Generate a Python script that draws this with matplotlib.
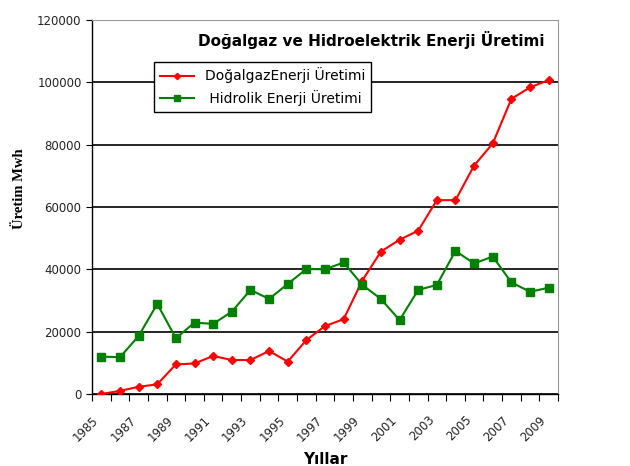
import matplotlib
matplotlib.use("Agg")
import matplotlib.pyplot as plt
import numpy as np

years = list(range(1985, 2010))  # 25 categories
dogalgaz = [0, 1000, 2300, 3100, 9500, 9800, 12200, 10900, 10900, 13800,
            10400, 17300, 21800, 24000, 36400, 45700, 49500, 52400, 62200,
            62200, 73300, 80400, 94700, 98400, 100700]
hidrolik = [12000, 11800, 18600, 28900, 17900, 22900, 22500, 26400, 33400,
            30500, 35300, 40100, 40000, 42200, 35000, 30500, 23700, 33400,
            35000, 45900, 41900, 44100, 35800, 32800, 34100]
tick_years = list(range(1985, 2011, 2))
title = "Doğalgaz ve Hidroelektrik Enerji Üretimi"
series_labels = ["DoğalgazEnerji Üretimi", " Hidrolik Enerji Üretimi"]

fig = plt.figure(figsize=(6.3, 4.66), dpi=100)
ax = fig.add_axes([92/630, 72/466, 466/630, 374/466])

x = np.arange(len(years))
ax.plot(x, dogalgaz, color="#ff0000", lw=1.5, marker="D", ms=4,
        mec="#ff0000", mfc="#ff0000", label=series_labels[0], zorder=3)
ax.plot(x, hidrolik, color="#008000", lw=1.5, marker="s", ms=6,
        mec="#008000", mfc="#008000", label=series_labels[1], zorder=3)

ax.set_xlim(-0.5, len(years) - 0.5)
ax.set_ylim(0, 120000)
ax.set_yticks(range(0, 120001, 20000))
ax.yaxis.grid(True, color="black", lw=1.2)
ax.set_axisbelow(True)

# category boundaries as ticks
bounds = np.arange(len(years) + 1) - 0.5
ax.set_xticks(bounds)
labels = []
for i in range(len(bounds)):
    yr = years[0] + i
    labels.append(str(yr) if (yr in tick_years and i < len(years)) else "")
ax.set_xticklabels(labels, rotation=45, ha="right", rotation_mode="anchor",
                   fontsize=8.5, color="#222222")
ax.tick_params(axis="y", labelsize=8.5, labelcolor="#222222", length=4,
               direction="out")
ax.tick_params(axis="x", length=5, direction="out", pad=9)

for s in ["top", "right"]:
    ax.spines[s].set_color("#999999")
for s in ["left", "bottom"]:
    ax.spines[s].set_color("black")
    ax.spines[s].set_linewidth(1.0)

ax.text(0.60, 0.947, title, transform=ax.transAxes, ha="center", va="center",
        fontsize=11, fontweight="bold")

leg = ax.legend(loc="upper left", bbox_to_anchor=(0.133, 0.888),
                borderaxespad=0, fancybox=False, edgecolor="black",
                fontsize=10, handlelength=2.5, markerscale=0.8,
                framealpha=1, borderpad=0.4, labelspacing=0.5)
leg.get_frame().set_linewidth(1.0)

fig.text(20/630, 1 - 189/466, "Üretim Mwh", rotation=90, ha="center",
         va="center", fontsize=10.5, fontweight="bold",
         family="Liberation Serif")
fig.text(325/630, 1 - 459/466, "Yıllar", ha="center", va="center",
         fontsize=11, fontweight="bold")

fig.savefig("out.png", dpi=100)
